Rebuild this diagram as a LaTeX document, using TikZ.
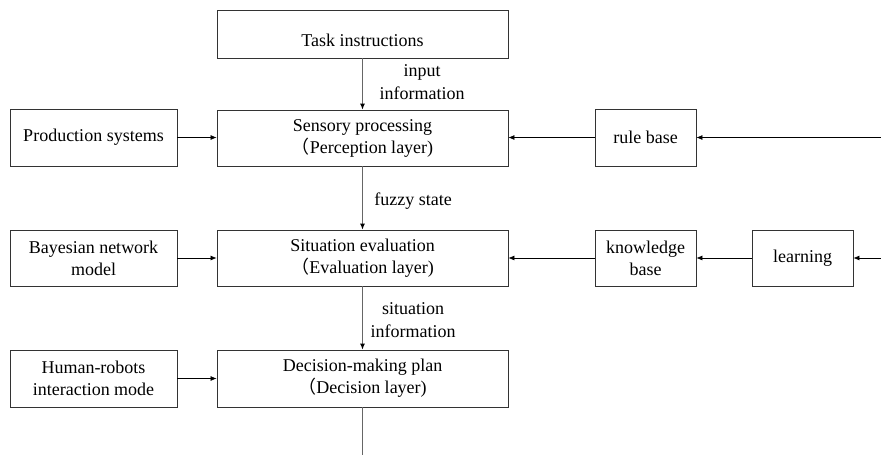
\documentclass[tikz,border=0pt]{standalone}
\usepackage{fontspec}
\setmainfont{Liberation Serif}
\newfontfamily\cjk{Noto Sans CJK SC}
\usetikzlibrary{arrows.meta}
\newcommand{\fwp}{{\cjk （}}
\begin{document}
\begin{tikzpicture}[x=1pt,y=-1pt,
  box/.style={draw=black!80,line width=0.8pt,inner sep=0pt,align=center,
    font=\fontsize{18}{22}\selectfont},
  lbl/.style={inner sep=0pt,align=center,font=\fontsize{18}{23}\selectfont},
  vline/.style={draw=black!60,line width=1pt,-{Latex[length=6pt,width=5pt,black]}},
  hline/.style={draw=black,line width=0.7pt,-{Latex[length=6pt,width=5pt]}}]
\useasboundingbox[fill=white] (0,0) rectangle (881,455);
% main column
\node[box,minimum width=291pt,minimum height=48pt] (task) at (362.5,34) {};
\node[lbl] (tasktxt) at (362.5,40) {Task instructions};
\node[box,minimum width=291pt,minimum height=56pt] (sens) at (362.5,138) {Sensory processing\\\fwp Perception layer)};
\node[box,minimum width=291pt,minimum height=56pt] (sit) at (362.5,258) {Situation evaluation\\\fwp Evaluation layer)};
\node[box,minimum width=291pt,minimum height=57pt] (dec) at (362.5,378.5) {Decision-making plan\\\fwp Decision layer)};
% left column
\node[box,minimum width=167pt,minimum height=57pt] (prod) at (93.5,137.5) {Production systems};
\node[box,minimum width=167pt,minimum height=56pt] (bayes) at (93.5,258) {Bayesian network\\model};
\node[box,minimum width=167pt,minimum height=57pt] (human) at (93.5,378.5) {Human-robots\\interaction mode};
% right side
\node[box,minimum width=101pt,minimum height=57pt] (rule) at (645.5,137.5) {rule base};
\node[box,minimum width=101pt,minimum height=56pt] (know) at (645.5,258) {knowledge\\base};
\node[box,minimum width=101pt,minimum height=56pt] (learn) at (802.5,258) {learning};
\coordinate (rin) at (881,137.5);
\coordinate (lin) at (881,258);
\coordinate (dout) at (362.5,455);
% vertical connectors
\draw[vline] (task.south) -- (sens.north);
\draw[vline] (sens.south) -- (sit.north);
\draw[vline] (sit.south) -- (dec.north);
\draw[draw=black!60,line width=1pt] (dec.south) -- (dout);
% labels
\node[lbl] (l1) at (422,82) {input\\information};
\node[lbl] (l2) at (413,201) {fuzzy state};
\node[lbl] (l3) at (413,320) {situation\\information};
% horizontal connectors
\draw[hline] (prod.east) -- (prod.east -| sens.west);
\draw[hline] (bayes.east) -- (bayes.east -| sit.west);
\draw[hline] (human.east) -- (human.east -| dec.west);
\draw[hline] (rule.west) -- (rule.west -| sens.east);
\draw[hline] (know.west) -- (know.west -| sit.east);
\draw[hline] (learn.west) -- (know.east);
\draw[hline] (rin) -- (rule.east);
\draw[hline] (lin) -- (learn.east);
\end{tikzpicture}
\end{document}
